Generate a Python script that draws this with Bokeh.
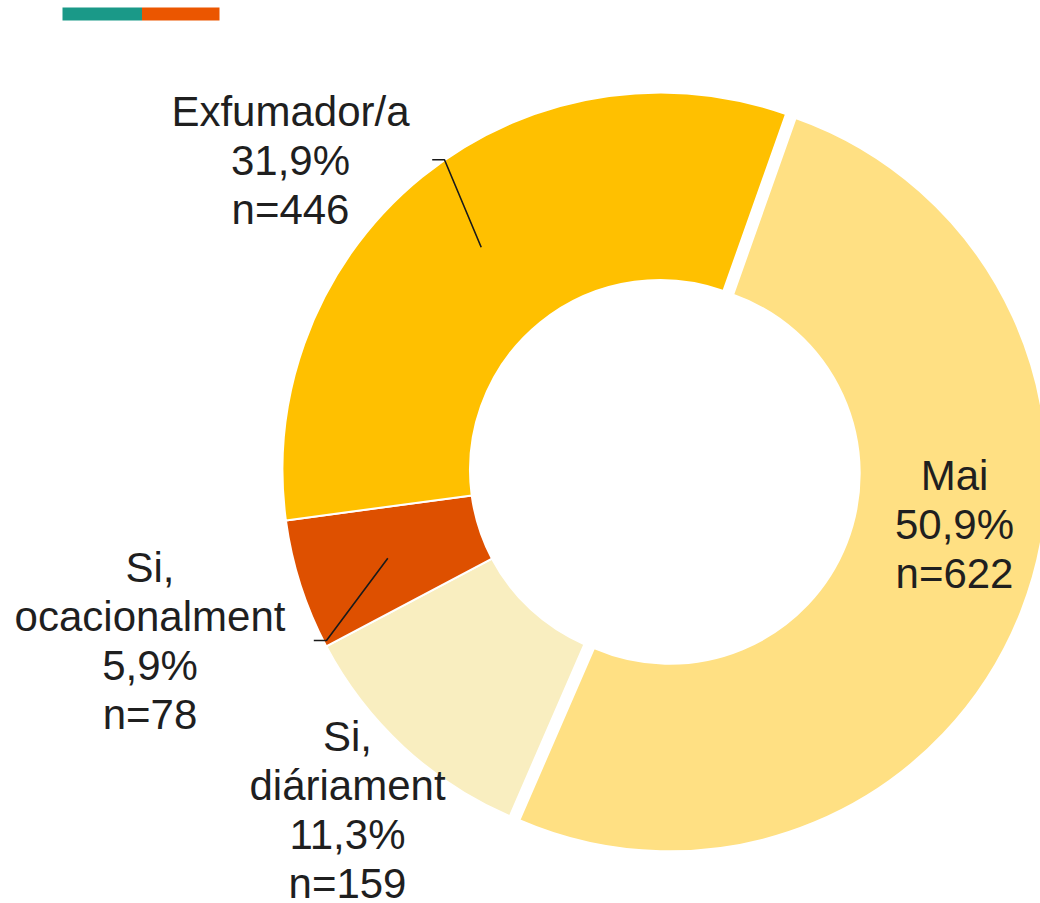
import math
from bokeh.plotting import figure
from bokeh.models import Range1d, ColumnDataSource
from bokeh.core.properties import value
from bokeh.embed import file_html
from bokeh.resources import INLINE

# ---------------- data ----------------
categories = ["Mai", "Si, diáriament", "Si, ocacionalment", "Exfumador/a"]
percent = [50.9, 11.3, 5.9, 31.9]          # printed percentages
slice_share = [51.1, 10.75, 5.6, 32.55]    # angular share as drawn in the picture
counts = [622, 159, 78, 446]
pct_labels = ["50,9%", "11,3%", "5,9%", "31,9%"]
name_lines = [["Mai"], ["Si,", "diáriament"], ["Si,", "ocacionalment"], ["Exfumador/a"]]
legend_colors = ["#1A9988", "#EB5600"]

# ---------------- style / layout ----------------
colors = ["#FFE083", "#F9EEC0", "#DE5000", "#FFC000"]
explode = [10.4, 0, 0, 0]
W, H = 1040, 903
TOP = 903  # data y = TOP - screen y
CX, CY = 659.5, TOP - 469.5
R_OUT, R_IN = 377.5, 190
START = 19.5  # degrees clockwise from 12 o'clock
FONT = "Liberation Sans"
FSIZE = "42px"
LINE_H = 49
TEXT_DY = -14  # correction for rendered baseline
TXT = "#1F1F1F"
label_anchor = [(954, 489.3), (347, 750), (149.5, 580.7), (290, 125)]
leaders = [None, None,
           [(313.3, 640), (326, 640), (387.3, 557.7)],
           [(431.7, 159.3), (444, 159.3), (480.7, 246.7)]]
legend_box = [(62, 141.5), (141.5, 219)]
legend_y = (7, 20)

p = figure(width=W, height=H, x_range=Range1d(0, W), y_range=Range1d(TOP - H, TOP),
           output_backend="svg", toolbar_location=None, min_border=0,
           x_axis_location=None, y_axis_location=None)
p.xgrid.visible = False
p.ygrid.visible = False
p.outline_line_color = None
p.background_fill_color = "white"
p.border_fill_color = "white"

# wedges
total = sum(slice_share)
xs, ys, sa, ea = [], [], [], []
cum = 0.0
for sh, ex in zip(slice_share, explode):
    t0 = START + cum / total * 360
    t1 = t0 + sh / total * 360
    mid = math.radians((t0 + t1) / 2)
    xs.append(CX + ex * math.sin(mid))
    ys.append(CY + ex * math.cos(mid))
    sa.append(math.radians(90 - t0))
    ea.append(math.radians(90 - t1))
    cum += sh

src = ColumnDataSource(dict(x=xs, y=ys, sa=sa, ea=ea, color=colors, cat=categories, pct=percent))
p.annular_wedge(x="x", y="y", inner_radius=R_IN, outer_radius=R_OUT,
                start_angle="sa", end_angle="ea", direction="clock",
                fill_color="color", line_color="white", line_width=2, source=src)

# leader lines
for ld in leaders:
    if ld:
        p.line([q[0] for q in ld], [TOP - q[1] for q in ld], line_color="#1A1A1A", line_width=1.6)

# labels
tx, ty, tt = [], [], []
for i in range(len(categories)):
    lines = name_lines[i] + [pct_labels[i], "n=%d" % counts[i]]
    ax, ay = label_anchor[i]
    for k, s in enumerate(lines):
        tx.append(ax)
        ty.append(TOP - (ay + k * LINE_H + TEXT_DY))
        tt.append(s)
p.text(x="x", y="y", text="text", source=ColumnDataSource(dict(x=tx, y=ty, text=tt)),
       text_font=value(FONT), text_font_size=value(FSIZE), text_align="center",
       text_baseline="alphabetic", text_color=TXT)

# top legend bars
p.quad(left=[b[0] for b in legend_box], right=[b[1] for b in legend_box],
       top=[TOP - legend_y[0]] * 2, bottom=[TOP - legend_y[1]] * 2,
       fill_color=legend_colors, line_color=None)

open("out.html", "w").write(file_html(p, INLINE))
